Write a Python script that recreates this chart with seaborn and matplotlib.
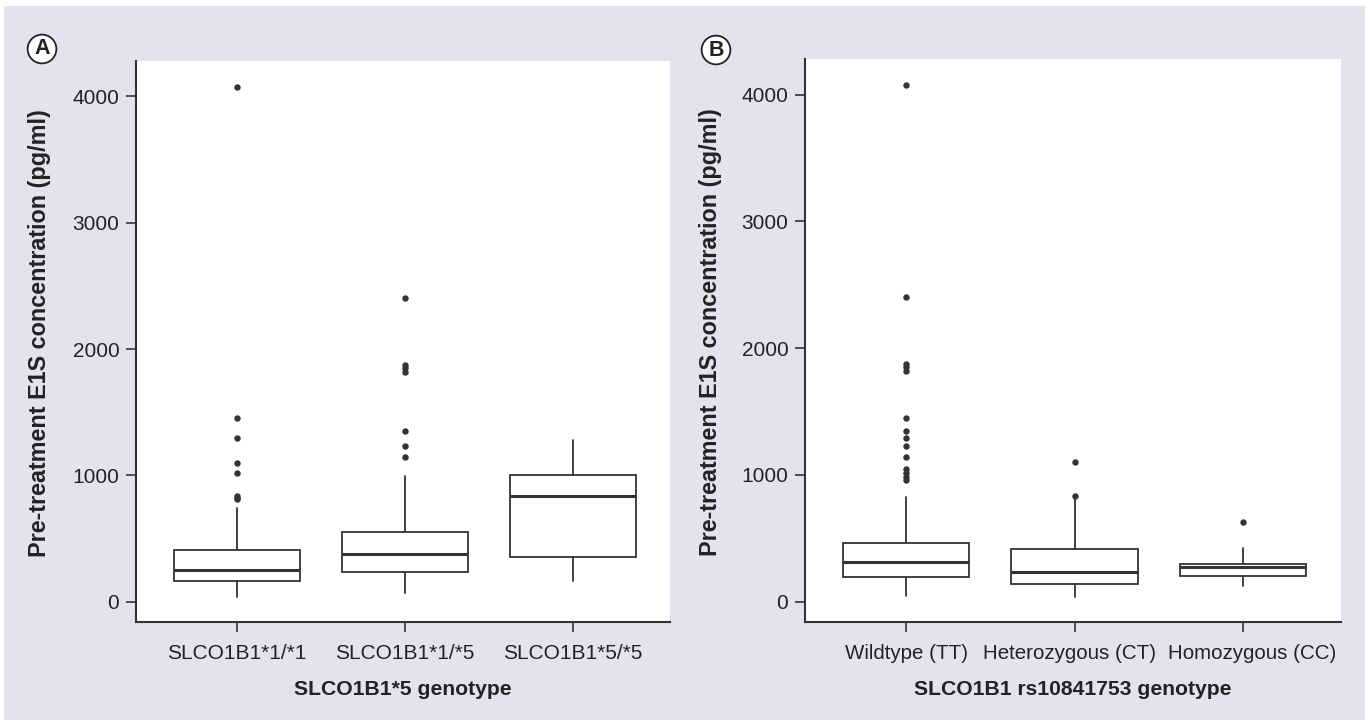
import matplotlib
matplotlib.use("Agg")
import matplotlib.pyplot as plt
import matplotlib.transforms as mtransforms
import seaborn as sns
from matplotlib.patches import Rectangle

# ---------------- data ----------------
ylabel_text = "Pre-treatment E1S concentration (pg/ml)"
yticks = [0, 1000, 2000, 3000, 4000]

labels_a = ["SLCO1B1*1/*1", "SLCO1B1*1/*5", "SLCO1B1*5/*5"]
xlabel_a = "SLCO1B1*5 genotype"
a_whislo = [40, 69, 164]
a_q1 = [161, 232, 356]
a_med = [253, 378, 834]
a_q3 = [409, 552, 1003]
a_whishi = [742, 992, 1280]
a_fliers = [
    [810, 825, 840, 1016, 1100, 1296, 1451, 4075],
    [1143, 1230, 1349, 1820, 1850, 1877, 2401],
    [],
]

labels_b = ["Wildtype (TT)", "Heterozygous (CT)", "Homozygous (CC)"]
xlabel_b = "SLCO1B1 rs10841753 genotype"
b_whislo = [47, 34, 126]
b_q1 = [197, 142, 203]
b_med = [310, 237, 271]
b_q3 = [460, 413, 298]
b_whishi = [823, 815, 421]
b_fliers = [
    [960, 985, 1013, 1047, 1139, 1229, 1292, 1347, 1447, 1820, 1850, 1876, 2402, 4073],
    [830, 1100],
    [631],
]

# ---------------- style ----------------
BG = "#e6e1ee"
LC = "#333333"
TC = "#222222"

sns.set_theme(style="ticks")
plt.rcParams['font.family'] = ['Liberation Sans', 'DejaVu Sans']

W, H = 1370, 720
fig = plt.figure(figsize=(W / 100, H / 100), dpi=100)
fig.patch.set_facecolor("white")
fig.patches.append(Rectangle((4 / W, 0), (1365 - 4) / W, 714 / H,
                             transform=fig.transFigure, facecolor=BG,
                             edgecolor="none", zorder=-10))

axA = fig.add_axes([136 / W, 1 - 622 / H, (670 - 136) / W, (622 - 61) / H])
axB = fig.add_axes([805 / W, 1 - 622 / H, (1341 - 805) / W, (622 - 59) / H])


def draw(ax, labels, lo, q1, med, q3, hi, fliers, xlabel):
    stats = [dict(label=l, whislo=a, q1=b, med=c, q3=d, whishi=e, fliers=f)
             for l, a, b, c, d, e, f in zip(labels, lo, q1, med, q3, hi, fliers)]
    ax.set_facecolor("white")
    ax.bxp(stats, positions=list(range(len(stats))), widths=0.75,
           showcaps=False, patch_artist=True,
           boxprops=dict(facecolor="white", edgecolor=LC, linewidth=1.3),
           whiskerprops=dict(color=LC, linewidth=1.3),
           medianprops=dict(color=LC, linewidth=2.2),
           flierprops=dict(marker="o", markerfacecolor=LC, markeredgecolor=LC,
                           markersize=3.6))
    ax.set_xlim(-0.6, 2.58)
    ax.set_ylim(-160, 4280)
    ax.set_yticks(yticks)
    ax.set_yticklabels([str(t) for t in yticks])
    sns.despine(ax=ax)
    for s in ("left", "bottom"):
        ax.spines[s].set_color(LC)
        ax.spines[s].set_linewidth(1.5)
    ax.tick_params(axis="both", length=7, width=1.2, color=LC,
                   labelsize=15, labelcolor=TC)
    ax.tick_params(axis="y", pad=5)
    ax.tick_params(axis="x", pad=9)
    ax.set_xlabel(xlabel, fontsize=15.2, fontweight="bold", color=TC, labelpad=12)
    ax.set_ylabel(ylabel_text, fontsize=16.8, fontweight="bold", color=TC)
    ax.grid(False)


draw(axA, labels_a, a_whislo, a_q1, a_med, a_q3, a_whishi, a_fliers, xlabel_a)
draw(axB, labels_b, b_whislo, b_q1, b_med, b_q3, b_whishi, b_fliers, xlabel_b)
axA.yaxis.set_label_coords((51 - 136) / (670 - 136), 0.515)
axB.yaxis.set_label_coords((722 - 805) / (1341 - 805), 0.515)

# nudge the crowded tick labels of panel B apart (as in the reference)
for lbl, dx_px in zip(axB.get_xticklabels(), (0, -5, 9)):
    off = mtransforms.ScaledTranslation(dx_px / 100, 0, fig.dpi_scale_trans)
    lbl.set_transform(lbl.get_transform() + off)
    lbl.set_fontsize(14.8)

for letter, (px, py) in (("A", (42, 49)), ("B", (716, 50))):
    fig.text(px / W, 1 - py / H, letter, ha="center", va="center",
             fontsize=15.5, fontweight="bold", color=TC,
             bbox=dict(boxstyle="circle,pad=0.18", facecolor="white",
                       edgecolor=TC, linewidth=1.3))

fig.savefig("out.png", dpi=100, facecolor=fig.get_facecolor())
